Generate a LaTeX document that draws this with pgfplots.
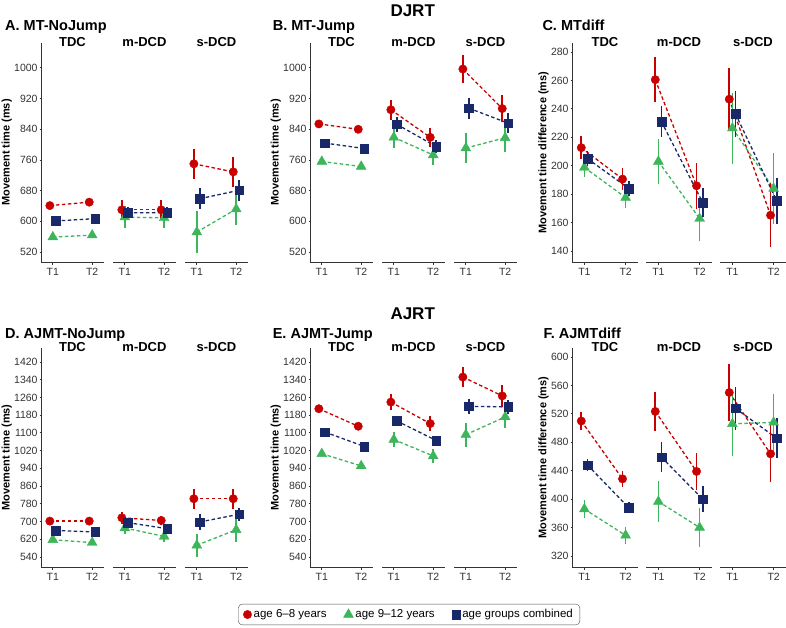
\documentclass[border=0pt]{standalone}
\usepackage{pgfplots}
\pgfplotsset{compat=1.18}
\usepackage{pgfplotstable}
\usepackage{fontspec}
\setmainfont{Liberation Sans}

\definecolor{cR}{HTML}{C80000}
\definecolor{cG}{HTML}{3DB55A}
\definecolor{cB}{HTML}{182868}
\definecolor{axgray}{HTML}{333333}

\newcommand\fs[1]{\fontsize{#1bp}{#1bp}\selectfont}
\newcommand\dg{0.075}

% columns: f = group (1 TDC, 2 m-DCD, 3 s-DCD), t = time point,
% r/g/b = means for age 6-8, age 9-12, combined; re/ge/be = error half-widths
\pgfplotstableread{
f t r re g ge b be
1 1 641 7 559 7 601 5
1 2 650 7 564 7 607 5
2 1 630 26 611 28 622 15
2 2 630 26 609 27 623 15
3 1 750 39 572 54 659 28
3 2 729 39 632 42 681 27
}\tabA
\pgfplotstableread{
f t r re g ge b be
1 1 854 6 756 7 804 5
1 2 840 6 743 7 790 5
2 1 891 26 819 28 853 20
2 2 819 24 773 25 795 18
3 1 997 37 791 40 895 27
3 2 894 35 818 37 856 26
}\tabB
\pgfplotstableread{
f t r re g ge b be
1 1 212.7 7.9 198.8 7 205 5
1 2 190.6 7.6 177.6 7 184 5
2 1 260.5 16 203 16 231 11
2 2 185.9 16 162.8 16 174 10
3 1 246.8 22 226.4 25 236.5 16
3 2 165.2 22.6 184 25 175.3 16
}\tabC
\pgfplotstableread{
f t r re g ge b be
1 1 702 8 618 8 660 6
1 2 702 8 605 8 653 6
2 1 717 26 671 25 695 18
2 2 705 22 633 25 668 18
3 1 803 45 593 53 698 35
3 2 803 45 663 55 733 30
}\tabD
\pgfplotstableread{
f t r re g ge b be
1 1 1209 12 1006 12 1104 10
1 2 1130 12 951 12 1039 10
2 1 1239 35 1070 35 1154 20
2 2 1142 32 996 32 1066 20
3 1 1352 47 1092 54 1220 35
3 2 1267 48 1172 50 1217 33
}\tabE
\pgfplotstableread{
f t r re g ge b be
1 1 510 13 386 13 448 8
1 2 428.5 11 349 12 388 8
2 1 523.4 27.5 396.6 29 459 21
2 2 439 26 360 28 400 18
3 1 550 40 506 45 527.7 30
3 2 463.8 40 508 40 485.8 28
}\tabF

\pgfplotsset{
  facet/.style={
    scale only axis, width=63bp, height=219bp, anchor=south west,
    xmin=0.7, xmax=2.3, xtick={1,2}, xticklabels={T1,T2},
    axis x line=bottom,
    axis line style={-, line width=0.9bp, draw=axgray},
    tick align=outside, major tick length=2.8bp,
    every tick/.append style={axgray, line width=0.9bp},
    tick label style={font=\fs{10.5}, text=axgray},
    yticklabel style={xshift=1.5bp},
    /pgf/number format/assume math mode=true,
    /pgf/number format/1000 sep={},
    title style={at={(0.5,1)}, anchor=north, inner sep=0pt, font=\bfseries\fs{13}},
    ylabel style={font=\bfseries\fs{11}, text=black},
    ylabel shift=-4.5bp,
    clip=false,
  },
  first/.style={axis y line=left, y axis line style={-}, x axis line style={-}, ylabel={#1}},
  rest/.style={axis y line=none, ymajorticks=false, x axis line style={-}},
  yA/.style={ymin=494, ymax=1065, ytick={520,600,...,1000}},
  yC/.style={ymin=132.3, ymax=286.3, ytick={140,160,...,280}},
  yD/.style={ymin=495, ymax=1483, ytick={540,620,...,1420}},
  yF/.style={ymin=304.5, ymax=612.7, ytick={320,360,...,600}},
  ln/.style={line width=1.3bp, dash pattern=on 3.5bp off 2.5bp, no markers, forget plot},
  pt/.style={only marks, color=#1, mark options={fill=#1, draw=#1},
    error bars/y dir=both, error bars/y explicit,
    error bars/error bar style={line width=1.6bp, color=#1},
    error bars/error mark=none},
}

% one facet: #1 x, #2 y (bp), #3 table, #4 group index, #5 strip label, #6 extra options
\newcommand\facet[6]{%
\begin{axis}[facet, at={(#1bp,#2bp)}, title={#5}, #6]
  \addplot[ln, cR, restrict expr to domain={\thisrow{f}}{#4:#4}] table[x expr=\thisrow{t}-\dg, y=r] {#3};
  \addplot[ln, cG, restrict expr to domain={\thisrow{f}}{#4:#4}] table[x expr=\thisrow{t}, y=g] {#3};
  \addplot[ln, cB, restrict expr to domain={\thisrow{f}}{#4:#4}] table[x expr=\thisrow{t}+\dg, y=b] {#3};
  \addplot[pt=cR, mark=*, mark size=4.2bp, restrict expr to domain={\thisrow{f}}{#4:#4}] table[x expr=\thisrow{t}-\dg, y=r, y error=re] {#3};
  \addplot[pt=cG, mark=triangle*, mark size=5.7bp, restrict expr to domain={\thisrow{f}}{#4:#4}] table[x expr=\thisrow{t}, y=g, y error=ge] {#3};
  \addplot[pt=cB, mark=square*, mark size=4.3bp, restrict expr to domain={\thisrow{f}}{#4:#4}] table[x expr=\thisrow{t}+\dg, y=b, y error=be] {#3};
\end{axis}}

\begin{document}
\begin{tikzpicture}
\path[use as bounding box] (0,0) rectangle (786bp,628bp);

% DJRT row
\facet{41}{366}{\tabA}{1}{TDC}{yA, first={Movement time (ms)}}
\facet{113}{366}{\tabA}{2}{m-DCD}{yA, rest}
\facet{185}{366}{\tabA}{3}{s-DCD}{yA, rest}
\facet{310}{366}{\tabB}{1}{TDC}{yA, first={Movement time (ms)}}
\facet{382}{366}{\tabB}{2}{m-DCD}{yA, rest}
\facet{454}{366}{\tabB}{3}{s-DCD}{yA, rest}
\facet{572}{366}{\tabC}{1}{TDC}{width=66bp, yC, first={Movement time difference (ms)}}
\facet{646}{366}{\tabC}{2}{m-DCD}{width=66bp, yC, rest}
\facet{720}{366}{\tabC}{3}{s-DCD}{width=66bp, yC, rest}

% AJRT row
\facet{41}{61}{\tabD}{1}{TDC}{yD, first={Movement time (ms)}}
\facet{113}{61}{\tabD}{2}{m-DCD}{yD, rest}
\facet{185}{61}{\tabD}{3}{s-DCD}{yD, rest}
\facet{310}{61}{\tabE}{1}{TDC}{yD, first={Movement time (ms)}}
\facet{382}{61}{\tabE}{2}{m-DCD}{yD, rest,
  legend entries={age 6--8 years, age 9--12 years, age groups combined},
  legend columns=3, legend cell align=left,
  legend style={at={(0.43,-0.217)}, anchor=center, draw=axgray!85,
    rounded corners=4bp, font=\fs{11.5}, inner xsep=5bp, inner ysep=3.5bp,
    /tikz/every even column/.append style={column sep=15bp}}}
\facet{454}{61}{\tabE}{3}{s-DCD}{yD, rest}
\facet{572}{61}{\tabF}{1}{TDC}{width=66bp, yF, first={Movement time difference (ms)}}
\facet{646}{61}{\tabF}{2}{m-DCD}{width=66bp, yF, rest}
\facet{720}{61}{\tabF}{3}{s-DCD}{width=66bp, yF, rest}

% headings
\node[anchor=base, font=\bfseries\fs{17}] at (412.7bp,611.8bp) {DJRT};
\node[anchor=base west, font=\bfseries\fs{14.5}] at (1.7bp,597.8bp) {A. MT-NoJump};
\node[anchor=base west, font=\bfseries\fs{14.5}] at (269.3bp,597.8bp) {B. MT-Jump};
\node[anchor=base west, font=\bfseries\fs{14.5}] at (539bp,597.8bp) {C. MTdiff};
\node[anchor=base, font=\bfseries\fs{17}] at (412.7bp,308.5bp) {AJRT};
\node[anchor=base west, font=\bfseries\fs{14.5}] at (1.7bp,289.5bp) {D. AJMT-NoJump};
\node[anchor=base west, font=\bfseries\fs{14.5}] at (269.3bp,289.5bp) {E. AJMT-Jump};
\node[anchor=base west, font=\bfseries\fs{14.5}] at (540bp,289.5bp) {F. AJMTdiff};
\end{tikzpicture}
\end{document}
